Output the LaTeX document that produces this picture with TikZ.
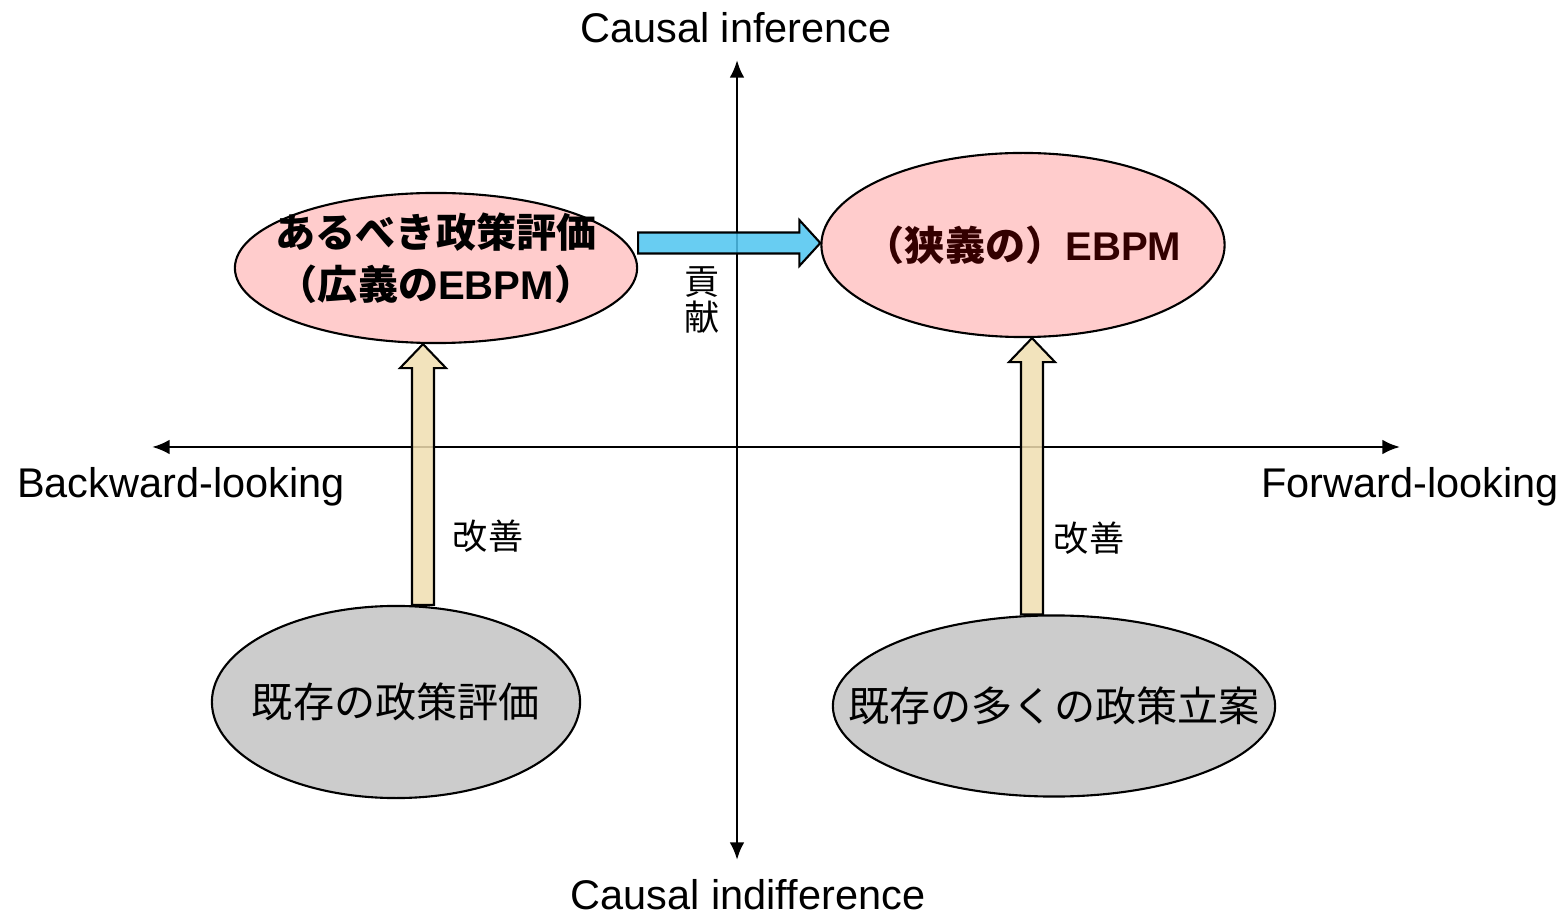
\documentclass[tikz,border=0pt]{standalone}
\usepackage{fontspec}
\setmainfont{Liberation Sans}
\newfontfamily\jp{Noto Sans CJK JP}
\newfontfamily\lat{Liberation Sans}
\usetikzlibrary{positioning,calc,shapes.geometric,arrows.meta}

\definecolor{pinkfill}{RGB}{255,204,204}
\definecolor{grayfill}{RGB}{204,204,204}
\definecolor{tanfill}{RGB}{240,222,176}
\definecolor{bluefill}{RGB}{78,196,240}
\definecolor{darkred}{RGB}{51,0,0}

\begin{document}
\begin{tikzpicture}[
        x=0.01cm, y=-0.01cm,
        goal/.style={
                ellipse,
                draw=black,
                fill=pinkfill,
                line width=0.6pt,
                inner sep=0pt,
                align=center,
                font=\jp\bfseries\fontsize{11.4}{14.8}\selectfont
            },
        current/.style={
                ellipse,
                draw=black,
                fill=grayfill,
                line width=0.6pt,
                inner sep=0pt,
                font=\jp\fontsize{11.7}{14}\selectfont
            },
        axis/.style={
                line width=0.8pt,
                {Latex[length=5pt,width=4.2pt]}-{Latex[length=5pt,width=4.2pt]}
            },
        axislabel/.style = {font=\fontsize{11.8}{14}\selectfont, inner sep=0pt},
        note/.style = {font=\jp\fontsize{10}{10.3}\selectfont, inner sep=0pt, align=center},
        improve/.style = {draw=black, fill=tanfill, fill opacity=0.85, line width=0.6pt, line join=miter},
        contrib/.style = {draw=black, fill=bluefill, fill opacity=0.85, line width=0.6pt, line join=miter}
    ]
    \useasboundingbox (0,0) rectangle (1567,916);

    % axes
    \coordinate (xLeft) at (152,447);
    \coordinate (xRight) at (1400,447);
    \coordinate (yTop) at (737,60);
    \coordinate (yBottom) at (737,860);
    \draw[axis] (xLeft) -- (xRight);
    \draw[axis] (yBottom) -- (yTop);

    \node[axislabel] (inference) at (736,28) {Causal inference};
    \node[axislabel] (indifference) at (748,895) {Causal indifference};
    \node[axislabel] (backward) at (181,487) {Backward-looking};
    \node[axislabel] (forward) at (1410,487) {Forward-looking};

    % ellipses (text in zero-size boxes so the sizes stay fixed)
    \node[goal, minimum width=4.02cm, minimum height=1.5cm] (wideEBPM) at (436,268)
        {\raisebox{-1.3pt}[0pt][0pt]{\makebox[0pt]{\begin{tabular}{@{}c@{}}あるべき政策評価\\（広義の{\lat EBPM}）\end{tabular}}}};
    \node[goal, minimum width=4.03cm, minimum height=1.84cm, text=darkred] (narrowEBPM) at (1023,245)
        {\makebox[0pt]{（狭義の）{\lat EBPM}}};
    \node[current, minimum width=3.68cm, minimum height=1.92cm] (oldEval) at (396,702)
        {\makebox[0pt]{既存の政策評価}};
    \node[current, minimum width=4.42cm, minimum height=1.81cm] (oldPlan) at (1054,706)
        {\makebox[0pt]{既存の多くの政策立案}};

    % block arrows
    \coordinate (evalBase) at ($(oldEval.north)+(27,0)$);
    \coordinate (evalTip) at (evalBase |- wideEBPM.south);
    \coordinate (planBase) at ($(oldPlan.north)+(-22,0)$);
    \coordinate (planTip) at (planBase |- narrowEBPM.south);
    \coordinate (contribBase) at ($(wideEBPM.east)+(0,-25)$);
    \coordinate (contribTip) at (narrowEBPM.west |- contribBase);

    \draw[improve] ($(evalBase)+(-11,0)$) -- ($(evalTip)+(-11,24)$) -- ($(evalTip)+(-23,24)$) -- (evalTip)
        -- ($(evalTip)+(23,24)$) -- ($(evalTip)+(11,24)$) -- ($(evalBase)+(11,0)$) -- cycle;
    \draw[improve] ($(planBase)+(-11,0)$) -- ($(planTip)+(-11,24)$) -- ($(planTip)+(-23,24)$) -- (planTip)
        -- ($(planTip)+(23,24)$) -- ($(planTip)+(11,24)$) -- ($(planBase)+(11,0)$) -- cycle;
    \draw[contrib] ($(contribBase)+(0,-10.5)$) -- ($(contribTip)+(-21,-10.5)$) -- ($(contribTip)+(-21,-23)$) -- (contribTip)
        -- ($(contribTip)+(-21,23)$) -- ($(contribTip)+(-21,10.5)$) -- ($(contribBase)+(0,10.5)$) -- cycle;

    \node[note] (contribLabel) at (702,300) {貢\\献};
    \node[note] (evalLabel) at (488,536) {改善};
    \node[note] (planLabel) at (1089,538) {改善};
\end{tikzpicture}
\end{document}
